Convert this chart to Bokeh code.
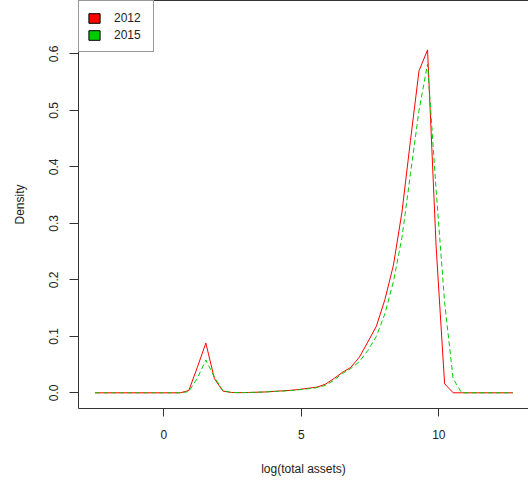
from bokeh.plotting import figure
from bokeh.models import Range1d, LinearAxis, FixedTicker, Legend, LegendItem, ColumnDataSource, NumeralTickFormatter
from bokeh.embed import file_html
from bokeh.resources import INLINE

x_grid = [-2.50, -2.19, -1.88, -1.57, -1.26, -0.95, -0.64, -0.33, -0.02, 0.29,
          0.60, 0.91, 1.22, 1.53, 1.84, 2.15, 2.46, 2.77, 3.08, 3.39,
          3.70, 4.01, 4.32, 4.63, 4.94, 5.25, 5.56, 5.87, 6.18, 6.49,
          6.80, 7.11, 7.42, 7.73, 8.04, 8.35, 8.66, 8.97, 9.28, 9.59,
          9.90, 10.21, 10.52, 10.83, 11.14, 11.45, 11.76, 12.07, 12.38, 12.69]

dens_2012 = [0, 0, 0, 0, 0, 0, 0, 0, 0, 0,
             0, 0.004, 0.045, 0.088, 0.025, 0.003, 0.0005, 0.0003, 0.0005, 0.001,
             0.0015, 0.0025, 0.0035, 0.0045, 0.006, 0.008, 0.010, 0.015, 0.025, 0.036,
             0.045, 0.063, 0.090, 0.118, 0.165, 0.226, 0.320, 0.447, 0.570, 0.607,
             0.260, 0.016, 0.0, 0, 0, 0, 0, 0, 0, 0]

dens_2015 = [0, 0, 0, 0, 0, 0, 0, 0, 0, 0,
             0, 0.002, 0.026, 0.058, 0.028, 0.004, 0.0005, 0.0003, 0.0005, 0.001,
             0.0015, 0.0025, 0.003, 0.004, 0.0055, 0.007, 0.009, 0.013, 0.022, 0.034,
             0.043, 0.055, 0.075, 0.100, 0.140, 0.197, 0.275, 0.388, 0.500, 0.582,
             0.360, 0.160, 0.025, 0, 0, 0, 0, 0, 0, 0]

series_labels = ["2012", "2015"]
series_colors = ["#FF0000", "#00CD00"]
x_ticks = [0, 5, 10]
y_ticks = [0.0, 0.1, 0.2, 0.3, 0.4, 0.5, 0.6]

FONT = "Liberation Sans"

p = figure(width=528, height=484, output_backend="svg", toolbar_location=None,
           x_range=Range1d(-3.1, 13.26), y_range=Range1d(-0.0278, 0.6944),
           min_border_left=78, min_border_right=0, min_border_top=0, min_border_bottom=76,
           x_axis_label="log(total assets)", y_axis_label="Density")
p.outline_line_color = None
p.xgrid.visible = False
p.ygrid.visible = False
p.background_fill_color = "white"

src = ColumnDataSource(dict(x=x_grid, a=dens_2012, b=dens_2015))
r1 = p.line("x", "a", source=src, line_color=series_colors[0], line_width=1)
r2 = p.line("x", "b", source=src, line_color=series_colors[1], line_width=1, line_dash="5 3")

for ax in p.xaxis + p.yaxis:
    ax.axis_line_color = "#333333"
    ax.major_tick_line_color = "#333333"
    ax.major_tick_in = 0
    ax.minor_tick_in = 0
    ax.minor_tick_out = 0
    ax.major_label_text_font = FONT
    ax.major_label_text_font_size = "12px"
    ax.major_label_text_color = "#222222"
    ax.axis_label_text_font = FONT
    ax.axis_label_text_font_size = "12px"
    ax.axis_label_text_font_style = "normal"
    ax.axis_label_text_color = "#222222"

p.xaxis.ticker = FixedTicker(ticks=x_ticks)
p.xaxis.major_tick_out = 8
p.xaxis.major_label_standoff = 13
p.xaxis.axis_label_standoff = 20

p.yaxis.ticker = FixedTicker(ticks=y_ticks)
p.yaxis.formatter = NumeralTickFormatter(format="0.0")
p.yaxis.major_tick_out = 9
p.yaxis.major_label_orientation = "vertical"
p.yaxis.major_label_standoff = 11
p.yaxis.axis_label_standoff = 20

top_axis = LinearAxis(ticker=FixedTicker(ticks=[]), axis_line_color="#333333",
                      major_tick_out=0, major_tick_in=0, minor_tick_out=0, minor_tick_in=0,
                      major_label_standoff=0, major_label_text_font_size="0px")
p.add_layout(top_axis, "above")

nan = float("nan")
q1 = p.quad(left=[nan], right=[nan], bottom=[nan], top=[nan],
            fill_color=series_colors[0], line_color="black")
q2 = p.quad(left=[nan], right=[nan], bottom=[nan], top=[nan],
            fill_color=series_colors[1], line_color="black")
legend = Legend(items=[LegendItem(label=series_labels[0], renderers=[q1]),
                       LegendItem(label=series_labels[1], renderers=[q2])],
                location="top_left", margin=0, padding=8, spacing=0,
                glyph_width=14, glyph_height=12, label_height=17, label_width=31,
                label_standoff=13, label_text_font=FONT, label_text_font_size="12px",
                label_text_color="#222222",
                border_line_color="#333333", border_line_width=1,
                background_fill_color="white", background_fill_alpha=1.0)
p.add_layout(legend, "center")

open("out.html", "w").write(file_html(p, INLINE))
